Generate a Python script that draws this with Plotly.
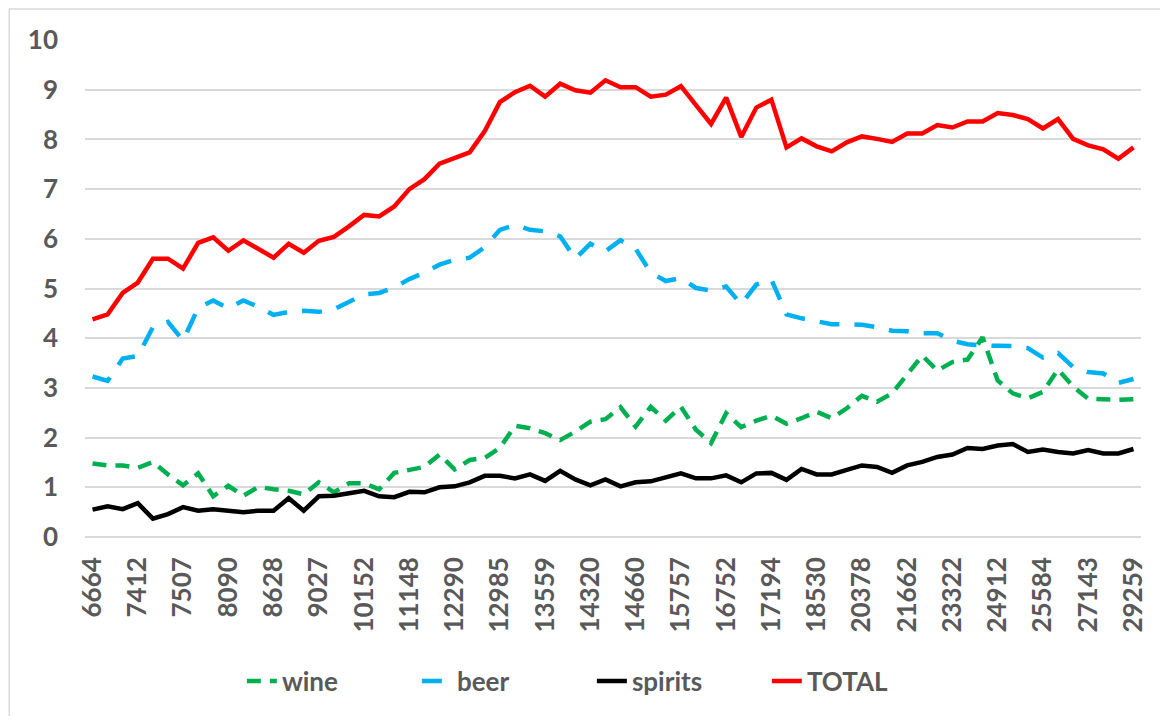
import plotly.graph_objects as go

tick_labels = ["6664", "7412", "7507", "8090", "8628", "9027", "10152", "11148",
               "12290", "12985", "13559", "14320", "14660", "15757", "16752", "17194",
               "18530", "20378", "21662", "23322", "24912", "25584", "27143", "29259"]

wine = [1.48, 1.44, 1.44, 1.39, 1.51, 1.26, 1.04, 1.28, 0.82, 1.03,
        0.83, 1.01, 0.96, 0.93, 0.86, 1.10, 0.90, 1.08, 1.08, 0.96,
        1.29, 1.35, 1.41, 1.66, 1.36, 1.55, 1.59, 1.79, 2.24, 2.19,
        2.09, 1.95, 2.12, 2.32, 2.37, 2.61, 2.22, 2.62, 2.34, 2.62,
        2.16, 1.89, 2.49, 2.21, 2.34, 2.44, 2.28, 2.39, 2.52, 2.39,
        2.59, 2.84, 2.72, 2.89, 3.28, 3.65, 3.35, 3.52, 3.57, 4.02,
        3.15, 2.89, 2.79, 2.92, 3.37, 3.03, 2.78, 2.76, 2.76, 2.77]

beer = [3.23, 3.14, 3.59, 3.64, 4.22, 4.33, 3.95, 4.61, 4.76, 4.60,
        4.76, 4.63, 4.47, 4.53, 4.55, 4.53, 4.58, 4.73, 4.88, 4.91,
        5.02, 5.19, 5.32, 5.48, 5.58, 5.62, 5.83, 6.18, 6.28, 6.18,
        6.15, 6.05, 5.60, 5.90, 5.75, 5.97, 5.80, 5.32, 5.15, 5.21,
        5.01, 4.96, 5.04, 4.68, 5.08, 5.18, 4.48, 4.40, 4.35, 4.28,
        4.28, 4.27, 4.22, 4.15, 4.14, 4.10, 4.10, 3.95, 3.88, 3.85,
        3.85, 3.84, 3.80, 3.61, 3.70, 3.42, 3.32, 3.29, 3.10, 3.18]

spirits = [0.55, 0.62, 0.56, 0.68, 0.37, 0.46, 0.60, 0.53, 0.56, 0.54,
           0.50, 0.53, 0.53, 0.78, 0.53, 0.82, 0.83, 0.88, 0.93, 0.82,
           0.80, 0.91, 0.90, 1.00, 1.02, 1.10, 1.23, 1.23, 1.18, 1.26,
           1.13, 1.33, 1.16, 1.04, 1.16, 1.02, 1.10, 1.12, 1.21, 1.28,
           1.18, 1.18, 1.24, 1.10, 1.28, 1.29, 1.15, 1.37, 1.26, 1.26,
           1.35, 1.44, 1.41, 1.29, 1.44, 1.51, 1.61, 1.66, 1.79, 1.77,
           1.84, 1.87, 1.71, 1.76, 1.71, 1.68, 1.75, 1.68, 1.68, 1.77]

total = [4.38, 4.48, 4.91, 5.12, 5.60, 5.60, 5.40, 5.92, 6.03, 5.76,
         5.97, 5.80, 5.62, 5.90, 5.72, 5.96, 6.04, 6.25, 6.48, 6.45,
         6.65, 7.00, 7.20, 7.51, 7.62, 7.74, 8.17, 8.75, 8.95, 9.08,
         8.86, 9.12, 8.99, 8.94, 9.19, 9.05, 9.05, 8.86, 8.90, 9.07,
         8.69, 8.31, 8.84, 8.05, 8.64, 8.80, 7.84, 8.02, 7.86, 7.76,
         7.94, 8.06, 8.01, 7.95, 8.12, 8.12, 8.29, 8.24, 8.36, 8.36,
         8.53, 8.49, 8.41, 8.22, 8.41, 8.01, 7.88, 7.80, 7.61, 7.84]

LABEL_STEP = 3
x = list(range(len(total)))
tickvals = [i * LABEL_STEP for i in range(len(tick_labels))]

FONT = "Lato"
GRAY = "#595959"
GRID = "#d9d9d9"

fig = go.Figure()
fig.add_trace(go.Scatter(x=x, y=wine, name="wine", mode="lines",
                         line=dict(color="#00b050", width=4.5, dash="14px,9px")))
fig.add_trace(go.Scatter(x=x, y=beer, name="beer", mode="lines",
                         line=dict(color="#00b0f0", width=4.5, dash="20px,15px")))
fig.add_trace(go.Scatter(x=x, y=spirits, name="spirits", mode="lines",
                         line=dict(color="#000000", width=4.5)))
fig.add_trace(go.Scatter(x=x, y=total, name="TOTAL", mode="lines",
                         line=dict(color="#ff0000", width=4.5)))

# page has an 8px body margin, so the figure is sized/offset to compensate
fig.update_layout(
    width=1152, height=708,
    margin=dict(l=77, r=12, t=32, b=174),
    paper_bgcolor="white", plot_bgcolor="white",
    font=dict(family=FONT, size=26, color=GRAY),
    showlegend=True,
    legend=dict(orientation="h", x=0.48, xanchor="center", y=-0.29, yanchor="middle",
                font=dict(family=FONT, size=26, color=GRAY, weight="bold"),
                entrywidth=130, entrywidthmode="pixels", tracegroupgap=0),
    shapes=[dict(type="rect", xref="paper", yref="paper",
                 x0=-0.0717, x1=1.2, y0=-0.5, y1=1.0622,
                 line=dict(color=GRID, width=1.5), fillcolor="rgba(0,0,0,0)",
                 layer="below")],
)
fig.update_xaxes(
    range=[-0.5, len(total) - 0.5],
    tickmode="array", tickvals=tickvals, ticktext=tick_labels,
    tickangle=-90, showgrid=False, zeroline=False,
    showline=False, ticks="",
    tickfont=dict(family=FONT, size=26, color=GRAY, weight="bold"),
    ticklabelstandoff=14,
)
fig.update_yaxes(
    range=[0, 10], dtick=1, tick0=0,
    showgrid=True, gridcolor=GRID, gridwidth=1.5,
    zeroline=True, zerolinecolor=GRID, zerolinewidth=1.5,
    showline=False, ticks="",
    tickfont=dict(family=FONT, size=26, color=GRAY, weight="bold"),
    ticklabelstandoff=26,
)

fig.write_html("out.html")
